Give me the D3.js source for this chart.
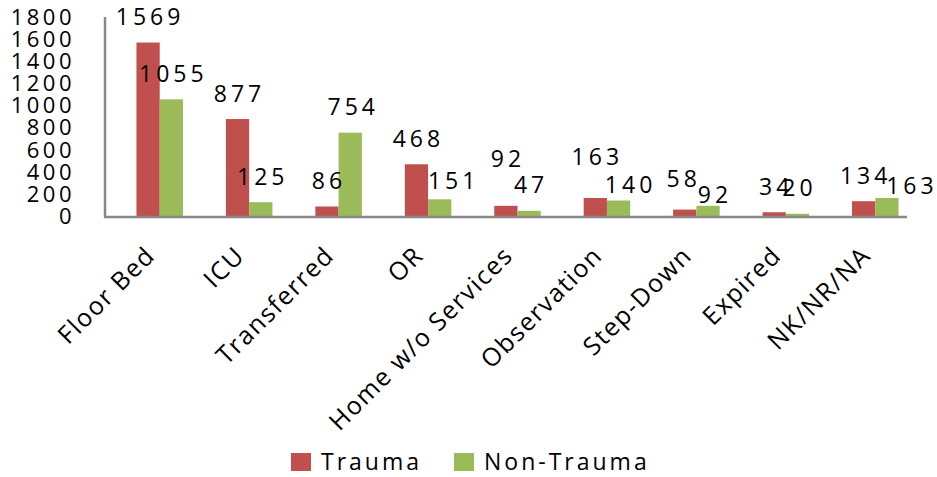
<!DOCTYPE html>
<html>
<head>
<meta charset="utf-8">
<script src="https://cdn.jsdelivr.net/npm/d3@7"></script>
<style>
  body { margin: 0; background: #fff; }
  text { font-family: "Open Sans", sans-serif; fill: #000; }
</style>
</head>
<body>
<div id="theChart"></div>
<script>
const categories = ["Floor Bed", "ICU", "Transferred", "OR", "Home w/o Services", "Observation", "Step-Down", "Expired", "NK/NR/NA"]
const trauma = [1569, 877, 86, 468, 92, 163, 58, 34, 134]
const nonTrauma = [1055, 125, 754, 151, 47, 140, 92, 20, 163]
const seriesNames = ["Trauma", "Non-Trauma"]
const seriesColors = ["#C0504D", "#9BBB59"]
const yTicks = [0, 200, 400, 600, 800, 1000, 1200, 1400, 1600, 1800]

const w = 937
const h = 477

// hand-moved data labels in the original: [dx, dy] per series per category
const traumaNudge = [[0, 0], [0, 0], [0, 0], [0, 0], [0, -21], [0, -15.5], [-3, -5], [0, 0], [0, 0]]
const nonTraumaNudge = [[0, 0], [0, 0], [1, 0], [12, 7], [0, 0], [10, 10], [5, 14.5], [0, 0], [23, 14]]

const svg = d3
	.select("#theChart")
	.append("svg")
	.attr("width", w)
	.attr("height", h)

const x = d3
	.scaleBand()
	.domain(categories)
	.range([115, 920])
	.paddingInner(0.48)
	.paddingOuter(0.24)

const x1 = d3.scaleBand().domain(seriesNames).range([0, x.bandwidth()])

const y = d3.scaleLinear().domain([0, 1800]).range([216, 17])

// y tick labels (no tick marks in the original)
svg.append("g")
	.selectAll("text")
	.data(yTicks)
	.enter()
	.append("text")
	.attr("x", 75)
	.attr("y", d => y(d))
	.attr("dy", "0.36em")
	.attr("text-anchor", "end")
	.style("font-size", "22px")
	.style("letter-spacing", "3.5px")
	.text(d => d)

const rows = categories.map((c, i) => ({
	cat: c,
	vals: [trauma[i], nonTrauma[i]],
	nudge: [traumaNudge[i], nonTraumaNudge[i]],
}))

const groups = svg
	.append("g")
	.selectAll("g")
	.data(rows)
	.enter()
	.append("g")
	.attr("transform", d => `translate(${x(d.cat)},0)`)

groups
	.selectAll("rect")
	.data(d => d.vals.map((v, j) => ({ v, s: seriesNames[j], j })))
	.enter()
	.append("rect")
	.attr("x", d => x1(d.s))
	.attr("width", x1.bandwidth())
	.attr("y", d => y(d.v))
	.attr("height", d => y(0) - y(d.v))
	.attr("fill", d => seriesColors[d.j])

groups
	.selectAll("text")
	.data(d => d.vals.map((v, j) => ({ v, s: seriesNames[j], j, n: d.nudge[j] })))
	.enter()
	.append("text")
	.attr("x", d => x1(d.s) + x1.bandwidth() / 2 + 2 + d.n[0])
	.attr("y", d => y(d.v) - 17.5 + d.n[1])
	.attr("text-anchor", "middle")
	.style("font-size", "23px")
	.style("letter-spacing", "4px")
	.text(d => d.v)

// axis lines
svg.append("line")
	.attr("x1", 105).attr("x2", 105)
	.attr("y1", 17).attr("y2", 217)
	.attr("stroke", "#888").attr("stroke-width", 2.5)
svg.append("line")
	.attr("x1", 104).attr("x2", 907)
	.attr("y1", 217).attr("y2", 217)
	.attr("stroke", "#888").attr("stroke-width", 2.5)

// category labels
svg.append("g")
	.selectAll("text")
	.data(categories)
	.enter()
	.append("text")
	.attr("transform", d => `translate(${x(d) + x.bandwidth() / 2 - 3},257) rotate(-45)`)
	.attr("text-anchor", "end")
	.style("font-size", "25px")
	.style("letter-spacing", "1.5px")
	.text(d => d)

// legend
const legend = svg.append("g").attr("id", "legend")
const legX = [291, 454]
legend
	.selectAll("rect")
	.data(seriesNames)
	.enter()
	.append("rect")
	.attr("x", (d, i) => legX[i])
	.attr("y", 453)
	.attr("width", 20)
	.attr("height", 18)
	.attr("fill", (d, i) => seriesColors[i])
legend
	.selectAll("text")
	.data(seriesNames)
	.enter()
	.append("text")
	.attr("x", (d, i) => legX[i] + 30)
	.attr("y", 470)
	.style("font-size", "23px")
	.style("letter-spacing", "3px")
	.text(d => d)
</script>
</body>
</html>
